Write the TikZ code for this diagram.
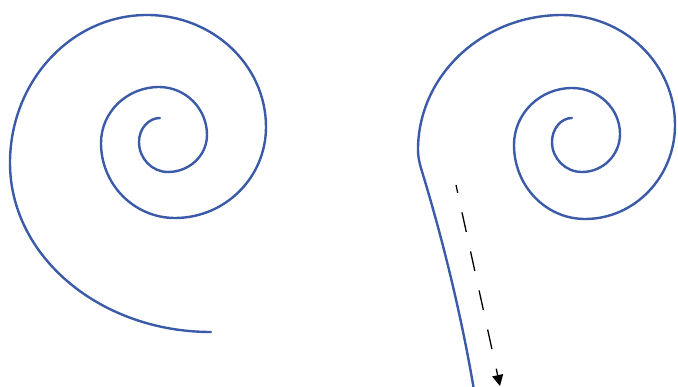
\documentclass[tikz,border=0pt]{standalone}
\usetikzlibrary{arrows.meta}
\definecolor{spiralblue}{RGB}{59,90,168}
\tikzset{
  spiral/.style={draw=spiralblue, line width=2.4pt, line cap=round},
  flowarrow/.style={draw=black, line width=1.3pt, dash pattern=on 20pt off 20pt, dash phase=12pt,
    -{Triangle[length=11pt,width=11pt]}}
}
\begin{document}
\begin{tikzpicture}[x=1pt,y=-1pt]
\useasboundingbox (0,0) rectangle (678,387);
% left spiral
\draw[spiral] (160,118)
  arc[start angle=-90,end angle=-180,x radius=21,y radius=24]
  arc[start angle=180,end angle=90,x radius=29,y radius=30]
  arc[start angle=90,end angle=0,x radius=39,y radius=37]
  arc[start angle=0,end angle=-90,x radius=48,y radius=48]
  arc[start angle=-90,end angle=-180,x radius=58,y radius=56]
  arc[start angle=180,end angle=90,x radius=74,y radius=75]
  arc[start angle=90,end angle=0,x radius=91,y radius=91]
  arc[start angle=0,end angle=-90,x radius=119,y radius=112]
  arc[start angle=-90,end angle=-180,x radius=137,y radius=148]
  arc[start angle=180,end angle=90,x radius=201,y radius=169];
% right spiral, uncoiling
\draw[spiral] (572,118)
  arc[start angle=-90,end angle=-180,x radius=20,y radius=24]
  arc[start angle=180,end angle=90,x radius=30,y radius=30]
  arc[start angle=90,end angle=0,x radius=38,y radius=38]
  arc[start angle=0,end angle=-90,x radius=48,y radius=46]
  arc[start angle=-90,end angle=-180,x radius=58,y radius=57]
  arc[start angle=180,end angle=90,x radius=71,y radius=74]
  arc[start angle=90,end angle=0,x radius=90,y radius=94]
  arc[start angle=0,end angle=-90,x radius=113,y radius=110]
  arc[start angle=-90,end angle=-180,x radius=144,y radius=135]
  .. controls (418,160) and (421.3,169) .. (424,178)
  .. controls (445,248) and (462.1,320) .. (474,390);
% dashed arrow
\coordinate (arrS) at (456,185);
\coordinate (arrE) at (500,386);
\draw[flowarrow] (arrS) -- (arrE);
\end{tikzpicture}
\end{document}
